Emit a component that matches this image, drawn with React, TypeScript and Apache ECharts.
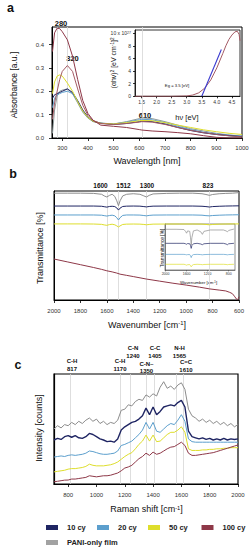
import React, { useEffect, useRef } from 'react';
import * as echarts from 'echarts';

const FONT = '"Liberation Sans", Arial, Helvetica, sans-serif';

const C_NAVY = '#1f2563';
const C_BLUE = '#5c9fcd';
const C_YELLOW = '#dede2c';
const C_MAROON = '#8e3848';
const C_GRAY = '#a2a2a2';
const C_BROWN = '#a35a64';
const C_FIT = '#3a3ad0';
const C_VLINE = '#d6d6d6';

// ---------- Panel a: UV-Vis absorbance ----------
const uvWl = [262, 270, 280, 290, 300, 320, 340, 360, 380, 400, 420, 450, 500, 550, 600, 610, 650, 700, 750, 800, 850, 900, 950, 1000];
const uvGray = [0.02, 0.12, 0.18, 0.2, 0.205, 0.21, 0.19, 0.15, 0.11, 0.085, 0.07, 0.063, 0.06, 0.07, 0.083, 0.086, 0.083, 0.07, 0.055, 0.04, 0.03, 0.02, 0.013, 0.008];
const uvNavy = [0.17, 0.185, 0.19, 0.195, 0.2, 0.21, 0.195, 0.16, 0.12, 0.09, 0.072, 0.063, 0.058, 0.062, 0.07, 0.072, 0.07, 0.06, 0.045, 0.032, 0.022, 0.015, 0.01, 0.006];
const uvBlue = [0.13, 0.17, 0.185, 0.19, 0.195, 0.2, 0.19, 0.155, 0.115, 0.088, 0.072, 0.064, 0.06, 0.068, 0.078, 0.08, 0.078, 0.066, 0.05, 0.036, 0.025, 0.017, 0.012, 0.008];
const uvYellow = [0.19, 0.24, 0.265, 0.27, 0.265, 0.235, 0.2, 0.155, 0.115, 0.088, 0.072, 0.063, 0.06, 0.066, 0.074, 0.075, 0.074, 0.066, 0.055, 0.045, 0.035, 0.027, 0.02, 0.015];
const uvMaroon = [0.37, 0.45, 0.47, 0.468, 0.455, 0.42, 0.35, 0.25, 0.16, 0.105, 0.076, 0.055, 0.05, 0.045, 0.036, 0.034, 0.03, 0.027, 0.023, 0.018, 0.01, 0.003, 0, 0];
const uvBrown = [0.08, 0.15, 0.2, 0.25, 0.285, 0.31, 0.285, 0.21, 0.14, 0.097, 0.075, 0.062, 0.058, 0.062, 0.068, 0.07, 0.068, 0.058, 0.045, 0.033, 0.023, 0.015, 0.009, 0.005];
const uvXTicks = [300, 400, 500, 600, 700, 800, 900, 1000];
const uvYTicks = [0, 0.1, 0.2, 0.3, 0.4];
const uvMarks = [280, 320, 610];

// Tauc inset
const taucHv = [1.28, 1.5, 2.0, 2.5, 3.0, 3.2, 3.4, 3.6, 3.8, 4.0, 4.2, 4.3, 4.4, 4.5, 4.6, 4.68, 4.74, 4.77];
const taucVal = [0, 0, 0, 0, 0.05, 0.2, 0.55, 1.3, 2.6, 4.5, 6.8, 8.0, 9.0, 9.7, 10.2, 10.3, 9.8, 8.8];
const fitHv = [3.5, 4.15];
const fitVal = [0, 7.4];
const taucXTicks = [1.5, 2.0, 2.5, 3.0, 3.5, 4.0, 4.5];
const taucYTicks = [0, 2, 4, 6, 8, 10];

// ---------- Panel b: FTIR transmittance ----------
const irX = [2000, 1900, 1800, 1700, 1640, 1620, 1600, 1580, 1560, 1540, 1525, 1512, 1500, 1480, 1450, 1400, 1350, 1320, 1300, 1280, 1250, 1150, 1050, 950, 880, 850, 823, 800, 750, 700, 650, 600];
const irGray = [98, 98, 98, 97.8, 97, 95.5, 94.5, 96, 97, 95, 91, 86.5, 91, 95.5, 97, 97.5, 97, 95.5, 94.5, 96, 97.3, 97.8, 98, 98, 97.5, 96.8, 96, 96.8, 97.5, 97.8, 98, 98.5];
const irNavy = [86.2, 86.2, 86.2, 86.2, 86, 85.6, 85.2, 85.8, 86, 85.7, 84.5, 82.5, 84.3, 85.8, 86.1, 86.2, 86.1, 85.7, 85.4, 85.8, 86.1, 86.2, 86.2, 86.2, 86, 85.7, 85.3, 85.7, 86, 86.2, 86.3, 86.4];
const irBlue = [78, 78, 78, 78, 77.8, 77.4, 77, 77.5, 77.8, 77.2, 75.5, 73.4, 75.5, 77.6, 78, 78, 77.9, 77.5, 77.2, 77.6, 77.9, 78, 78, 78, 77.8, 77.4, 77.2, 77.5, 77.8, 78, 78.1, 78.2];
const irYellow = [69.8, 69.8, 69.8, 69.7, 69.4, 68.9, 68.5, 69.2, 69.5, 69, 68, 67, 68, 69.3, 69.6, 69.7, 69.6, 69.3, 69, 69.3, 69.6, 69.7, 69.7, 69.7, 69.6, 69.3, 69, 69.3, 69.6, 69.7, 69.8, 69.8];
const irMaroonX = [2000, 1900, 1800, 1700, 1640, 1600, 1560, 1525, 1500, 1450, 1400, 1300, 1200, 1100, 1000, 900, 823, 750, 700, 670, 650, 635, 620, 612, 605, 600];
const irMaroon = [37.6, 35, 32.4, 29.8, 28.1, 26.8, 25.8, 24.7, 23.7, 22.6, 21.5, 19.2, 17.3, 15.4, 13.7, 11.8, 10.2, 9.1, 8.3, 7, 5.8, 3.5, 1, 0.2, 1.5, 3];
const irMarks = [1600, 1512, 1300, 823];

// FTIR inset
const irInX = [2000, 1800, 1650, 1620, 1600, 1580, 1540, 1525, 1512, 1500, 1470, 1400, 1330, 1300, 1270, 1150, 900, 850, 823, 800, 700];
const irInGray = [88.5, 88.5, 88, 84, 80, 85, 84, 70, 54, 70, 85, 87, 83, 77.5, 84, 87, 87, 85, 83, 86, 89];
const irInNavy = [58, 58, 58, 57, 56, 57.5, 57, 53, 47, 53, 57, 58, 56.5, 55, 57, 58, 58, 56.5, 55, 57, 58];
const irInBlue = [34, 34, 34, 33.5, 33, 33.5, 33.5, 31, 27, 31, 33.5, 34, 33.5, 33, 33.5, 34, 34, 33.5, 33, 33.5, 34];
const irInYellow = [12.4, 12.4, 12.4, 11.5, 10.5, 11.5, 11.8, 9.5, 7, 9.5, 11.8, 12.4, 12, 11.5, 12, 12.4, 12.4, 12, 11.5, 12, 12.4];
const irInTicks = [800, 1200, 1600, 2000];

// ---------- Panel c: Raman ----------
const ramanX = [700, 725, 750, 775, 800, 825, 850, 875, 900, 925, 950, 975, 1000, 1025, 1050, 1075, 1100, 1125, 1150, 1175, 1200, 1225, 1250, 1275, 1300, 1325, 1350, 1375, 1400, 1425, 1450, 1475, 1500, 1525, 1550, 1575, 1600, 1625, 1650, 1675, 1700, 1725, 1750, 1775, 1800, 1825, 1850, 1875, 1900, 1925, 1950, 1975, 2000];
const ramanGray = [50, 53, 51, 54, 53, 56, 54, 57, 55, 58, 60, 57, 59, 55, 57, 54, 56, 55, 58, 67, 68, 72, 71, 75, 77, 76, 81, 79, 82, 80, 88, 93, 87, 89, 86, 90, 92, 86, 68, 62, 60, 57, 59, 56, 58, 55, 57, 54, 56, 53, 55, 52, 54];
const ramanNavy = [40, 41.5, 40.5, 43, 44, 42.5, 44, 42, 41.5, 43, 46, 45, 43, 41, 40, 38.5, 39, 38, 41, 49, 52, 54, 56, 57, 59, 62, 69, 63, 70, 63, 66, 70, 71, 72, 71, 74, 76, 70, 48, 43, 42, 41, 42, 40.5, 41.5, 40, 41, 40, 41.5, 40, 41, 40.5, 41];
const ramanBlue = [24.5, 25, 25.5, 25, 26, 26.5, 26, 26.5, 27, 28, 30, 29.5, 28.5, 27.5, 27, 27, 27.5, 28, 30, 35, 36, 37.5, 39, 42, 45, 49, 56, 50, 56, 48, 47, 50, 53, 55, 54, 58, 63, 57, 41, 38.5, 38, 38, 38, 38, 38, 38, 38, 38, 38, 38, 38, 38, 38];
const ramanYellow = [11, 11.5, 12, 12.5, 13.5, 14, 14, 14.5, 15, 16, 18, 17, 16.5, 16.5, 16.5, 17, 17.5, 18.5, 20, 22.5, 25, 27, 28.5, 32, 36, 39, 44.5, 39, 44.5, 38.5, 39, 42, 45, 47, 47, 49, 52, 47, 32, 30.5, 30.5, 30.5, 31, 31, 31.5, 31.5, 32, 32, 32.5, 32.5, 33, 33, 33];
const ramanMaroon = [2, 2.5, 3, 3.5, 3.6, 4.5, 4.5, 5, 5.5, 6, 7.5, 7, 6.5, 7, 7.5, 7.5, 8, 9, 10, 12, 14.5, 15.5, 17, 20, 23, 25, 28, 26, 29, 27, 28, 30, 32, 33.5, 34, 36, 38, 35, 28, 26, 26, 26.5, 27, 27.5, 28, 28.5, 29.5, 30.5, 31.5, 32.5, 33.5, 34.5, 35.5];
const ramanTicks = [800, 1000, 1200, 1400, 1600, 1800, 2000];
const ramanMarks = [817, 1170, 1240, 1350, 1405, 1565, 1610];
const ramanBands = [
  { name: 'C-H', wn: '817', x: 72, y: 361 },
  { name: 'C-H', wn: '1170', x: 120, y: 361 },
  { name: 'C-N', wn: '1240', x: 133, y: 348 },
  { name: 'C-N~', wn: '1350', x: 146.5, y: 363.5 },
  { name: 'C-C', wn: '1405', x: 155, y: 348 },
  { name: 'N-H', wn: '1565', x: 179.5, y: 348 },
  { name: 'C=C', wn: '1610', x: 186, y: 362 },
];
const irLabels = [
  { t: '1600', x: 100.5 },
  { t: '1512', x: 123.5 },
  { t: '1300', x: 147 },
  { t: '823', x: 208 },
];

const legendItems = [
  { name: '10 cy', color: C_NAVY, left: 46, top: 523.5 },
  { name: '20 cy', color: C_BLUE, left: 97, top: 523.5 },
  { name: '50 cy', color: C_YELLOW, left: 148, top: 523.5 },
  { name: '100 cy', color: C_MAROON, left: 201.5, top: 523.5 },
  { name: 'PANI-only film', color: C_GRAY, left: 46, top: 538.5 },
];

const zip = (xs: number[], ys: number[]) => xs.map((x, i) => [x, ys[i]]);
const plain = (v: number) => String(v);

function line(name: string | undefined, xs: number[], ys: number[], color: string, idx: number, width = 1, extra: any = {}) {
  return {
    type: 'line',
    name,
    xAxisIndex: idx,
    yAxisIndex: idx,
    data: zip(xs, ys),
    showSymbol: false,
    symbol: 'none',
    color,
    itemStyle: { color },
    lineStyle: { color, width },
    silent: true,
    z: 3,
    ...extra,
  };
}

function vlines(vals: number[]) {
  return {
    silent: true,
    symbol: ['none', 'none'],
    label: { show: false },
    z: 1,
    lineStyle: { color: C_VLINE, width: 0.8, type: 'solid' },
    data: vals.map((v) => ({ xAxis: v })),
  };
}

const axisBase = (fontSize: number, margin: number) => ({
  axisLine: { show: true, onZero: false, lineStyle: { color: '#000', width: 1 } },
  splitLine: { show: false },
  axisLabel: { fontSize, margin, color: '#333', fontFamily: FONT, formatter: plain },
  axisTick: { show: true, length: 3, lineStyle: { color: '#000', width: 0.8 } },
});

function txt(text: string, x: number, y: number, fontSize: number, bold = false, extra: any = {}) {
  return {
    type: 'text',
    x,
    y,
    silent: true,
    ...extra,
    style: {
      text,
      fill: '#111',
      fontSize,
      fontWeight: bold ? 'bold' : 'normal',
      fontFamily: FONT,
      align: 'center',
      verticalAlign: 'middle',
      textAlign: 'center',
      textVerticalAlign: 'middle',
    },
  };
}

function richText(parts: [string, boolean][], x: number, y: number, fontSize: number, rotation = 0) {
  const text = parts.map(([s, sup]) => `{${sup ? 's' : 't'}|${s}}`).join('');
  return {
    type: 'text',
    x,
    y,
    rotation,
    silent: true,
    style: {
      text,
      rich: {
        t: { fontSize, fontFamily: FONT, fill: '#111' },
        s: { fontSize: fontSize * 0.65, fontFamily: FONT, verticalAlign: 'top', fill: '#111' },
      },
      fill: '#111',
      fontSize,
      fontFamily: FONT,
      align: 'center',
      verticalAlign: 'middle',
      textAlign: 'center',
      textVerticalAlign: 'middle',
    },
  };
}

export default function App() {
  const ref = useRef<HTMLDivElement>(null);
  useEffect(() => {
    if (!ref.current) return;
    const chart = echarts.init(ref.current, undefined, { renderer: 'svg' });

    const cm1 = (label: string, x: number, y: number, fs: number) =>
      richText([[label + ' [cm', false], ['-1', true], [']', false]], x, y, fs);

    const graphics: any[] = [
      txt('a', 10.5, 7.5, 12.5, true),
      txt('b', 13, 174, 12.5, true),
      txt('c', 18, 365, 12.5, true),
      // panel a
      txt('Absorbance [a.u.]', 13.5, 85, 8.5, false, { rotation: Math.PI / 2 }),
      txt('Wavelength [nm]', 147, 161, 9),
      txt('280', 61, 23, 7.5, true),
      txt('320', 72.5, 58.5, 7.5, true),
      txt('610', 145, 115, 7.5, true),
      richText([['(αhν)', false], ['2', true], [' [eV cm', false], ['-1', true], [']', false], ['2', true]], 113, 63, 7, Math.PI / 2),
      txt('hν [eV]', 187, 117, 7.5),
      txt('Eg = 3.5 [eV]', 177, 85, 4.2),
      // panel b
      txt('Transmittance [%]', 39.5, 248, 9, false, { rotation: Math.PI / 2 }),
      cm1('Wavenumber', 147, 324.5, 9),
      txt('Transmittance [%]', 162, 248, 4.8, false, { rotation: Math.PI / 2 }),
      cm1('Wavenumber', 198.5, 282, 4.3),
      ...irLabels.map((l) => txt(l.t, l.x, 185, 6.5, true)),
      // panel c
      txt('Intensity [counts]', 39, 428, 9, false, { rotation: Math.PI / 2 }),
      cm1('Raman shift', 146.5, 509, 9),
      ...ramanBands.flatMap((b) => [txt(b.name, b.x, b.y, 6, true), txt(b.wn, b.x, b.y + 7.5, 6, true)]),
    ];

    const gridStyle = { show: true, borderColor: '#000', borderWidth: 1, backgroundColor: 'transparent' };

    const option: any = {
      animation: false,
      backgroundColor: '#fff',
      textStyle: { fontFamily: FONT },
      grid: [
        { left: 52, top: 27, width: 190, height: 111, ...gridStyle },
        { left: 135, top: 30, width: 105, height: 66.3, ...gridStyle, borderWidth: 0.8, backgroundColor: '#fff' },
        { left: 54, top: 191, width: 185, height: 109, ...gridStyle },
        { left: 165, top: 224, width: 70, height: 46, ...gridStyle, borderColor: '#444', borderWidth: 0.6, backgroundColor: '#fff' },
        { left: 54, top: 374, width: 184, height: 110, ...gridStyle, borderWidth: 1.2 },
      ],
      xAxis: [
        (() => {
          const b = axisBase(6, 7);
          return {
            gridIndex: 0, type: 'value', min: 260, max: 1000, ...b,
            axisLabel: { ...b.axisLabel, customValues: uvXTicks },
            axisTick: { ...b.axisTick, customValues: uvXTicks },
          };
        })(),
        (() => {
          const b = axisBase(5, 3);
          return {
            gridIndex: 1, type: 'value', min: 1.28, max: 4.77, ...b,
            axisLine: { ...b.axisLine, lineStyle: { color: '#000', width: 0.8 } },
            axisLabel: { ...b.axisLabel, customValues: taucXTicks, formatter: (v: number) => v.toFixed(1) },
            axisTick: { ...b.axisTick, length: 2, customValues: taucXTicks },
          };
        })(),
        (() => {
          const b = axisBase(6, 8);
          return { gridIndex: 2, type: 'value', min: 600, max: 2000, interval: 200, inverse: true, ...b };
        })(),
        (() => {
          const b = axisBase(3.5, 2);
          return {
            gridIndex: 3, type: 'value', min: 680, max: 2010, inverse: true, ...b,
            axisLine: { ...b.axisLine, lineStyle: { color: '#444', width: 0.6 } },
            axisLabel: { ...b.axisLabel, customValues: irInTicks },
            axisTick: { ...b.axisTick, length: 1.5, customValues: irInTicks, lineStyle: { color: '#444', width: 0.5 } },
          };
        })(),
        (() => {
          const b = axisBase(6, 8);
          return {
            gridIndex: 4, type: 'value', min: 700, max: 2000, ...b,
            axisLine: { ...b.axisLine, lineStyle: { color: '#000', width: 1.2 } },
            axisLabel: { ...b.axisLabel, customValues: ramanTicks },
            axisTick: { ...b.axisTick, customValues: ramanTicks },
          };
        })(),
      ],
      yAxis: [
        (() => {
          const b = axisBase(6, 8);
          return {
            gridIndex: 0, type: 'value', min: 0, max: 0.475, ...b,
            axisLabel: { ...b.axisLabel, customValues: uvYTicks, formatter: (v: number) => v.toFixed(1) },
            axisTick: { ...b.axisTick, customValues: uvYTicks },
          };
        })(),
        (() => {
          const b = axisBase(5, 4);
          return {
            gridIndex: 1, type: 'value', min: 0, max: 10.5, ...b,
            axisLine: { ...b.axisLine, lineStyle: { color: '#000', width: 0.8 } },
            axisLabel: {
              ...b.axisLabel,
              customValues: taucYTicks,
              formatter: (v: number) => (v === 10 ? '10 x 10{s|27}' : String(v)),
              rich: { s: { fontSize: 3.6, verticalAlign: 'top', color: '#333', fontFamily: FONT } },
            },
            axisTick: { ...b.axisTick, length: 2, customValues: taucYTicks },
          };
        })(),
        { gridIndex: 2, type: 'value', min: 0, max: 100, axisLine: { show: true, lineStyle: { color: '#000' } }, axisTick: { show: false }, axisLabel: { show: false }, splitLine: { show: false } },
        { gridIndex: 3, type: 'value', min: 0, max: 100, axisLine: { show: true, lineStyle: { color: '#444', width: 0.6 } }, axisTick: { show: false }, axisLabel: { show: false }, splitLine: { show: false } },
        { gridIndex: 4, type: 'value', min: 0, max: 100, axisLine: { show: true, lineStyle: { color: '#000', width: 1.2 } }, axisTick: { show: false }, axisLabel: { show: false }, splitLine: { show: false } },
      ],
      legend: legendItems.map((it) => ({
        data: [{ name: it.name, itemStyle: { color: it.color } }],
        left: it.left,
        top: it.top,
        orient: 'horizontal',
        icon: 'rect',
        itemWidth: 12,
        itemHeight: 5,
        padding: 0,
        selectedMode: false,
        textStyle: { fontSize: 7.5, fontWeight: 'bold', color: '#222', fontFamily: FONT, padding: [0, 0, 0, 4] },
      })),
      series: [
        // panel a
        line('PANI-only film', uvWl, uvGray, '#8f9a9a', 0, 1, { markLine: vlines(uvMarks) }),
        line('20 cy', uvWl, uvBlue, C_BLUE, 0),
        line('10 cy', uvWl, uvNavy, C_NAVY, 0),
        line('50 cy', uvWl, uvYellow, C_YELLOW, 0),
        line(undefined, uvWl, uvBrown, C_BROWN, 0),
        line('100 cy', uvWl, uvMaroon, C_MAROON, 0),
        // tauc inset
        line(undefined, taucHv, taucVal, C_BROWN, 1),
        line(undefined, fitHv, fitVal, C_FIT, 1, 1.1),
        // panel b
        line('PANI-only film', irX, irGray, '#8e8e8e', 2, 1, { markLine: vlines(irMarks) }),
        line('10 cy', irX, irNavy, C_NAVY, 2),
        line('20 cy', irX, irBlue, C_BLUE, 2),
        line('50 cy', irX, irYellow, C_YELLOW, 2),
        line('100 cy', irMaroonX, irMaroon, C_MAROON, 2),
        // ftir inset
        line('PANI-only film', irInX, irInGray, '#8e8e8e', 3, 0.7),
        line('10 cy', irInX, irInNavy, C_NAVY, 3, 0.7),
        line('20 cy', irInX, irInBlue, C_BLUE, 3, 0.7),
        line('50 cy', irInX, irInYellow, C_YELLOW, 3, 0.7),
        // panel c
        line('PANI-only film', ramanX, ramanGray, '#8c8c8c', 4, 1, { markLine: vlines(ramanMarks) }),
        line('10 cy', ramanX, ramanNavy, C_NAVY, 4, 1.4),
        line('20 cy', ramanX, ramanBlue, C_BLUE, 4),
        line('50 cy', ramanX, ramanYellow, C_YELLOW, 4),
        line('100 cy', ramanX, ramanMaroon, C_MAROON, 4),
      ],
      graphic: { elements: graphics },
    };

    chart.setOption(option);
    return () => chart.dispose();
  }, []);

  return (
    <div
      ref={ref}
      style={{ position: 'absolute', left: 0, top: 0, width: 252, height: 550, background: '#fff' }}
    />
  );
}
